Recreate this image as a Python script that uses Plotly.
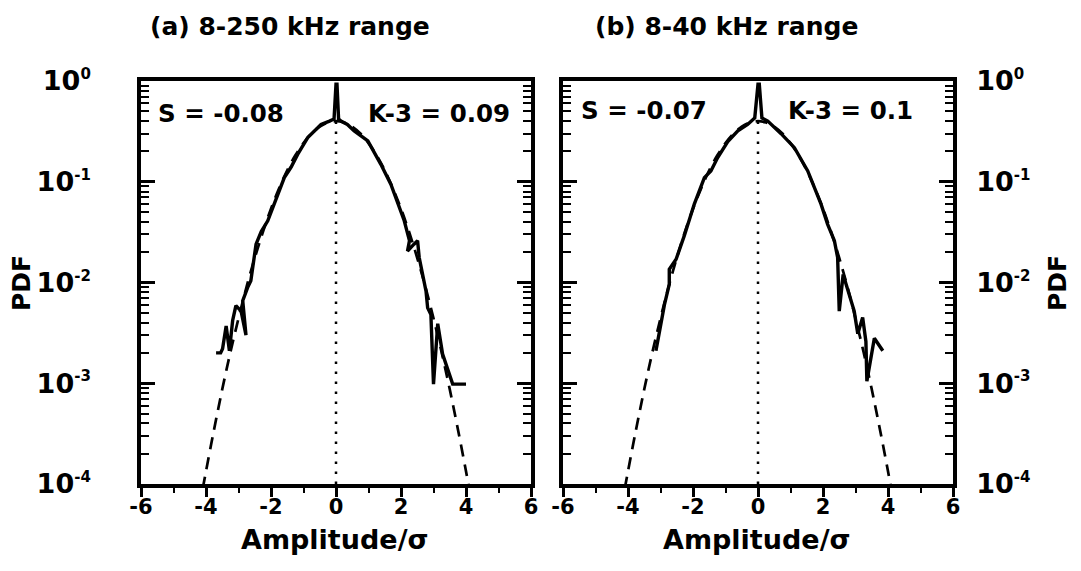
import plotly.graph_objects as go

# ---------------- data ----------------
# Panel (a) 8-250 kHz: measured PDF
a_x = [-3.69, -3.55, -3.49, -3.38, -3.28, -3.18, -3.08, -2.92, -2.77, -2.87, -2.72, -2.62,
       -2.46, -2.30, -2.10, -1.80, -1.59, -1.38, -1.18, -0.87, -0.46, -0.20, -0.06, 0.0,
       0.03, 0.08, 0.15, 0.35, 0.56, 0.98, 1.38, 1.69, 1.90, 2.10, 2.26, 2.20, 2.40, 2.51,
       2.56, 2.67, 2.77, 2.82, 2.92, 3.00, 3.13, 3.28, 3.44, 3.59, 4.00]
a_y = [0.0020, 0.0020, 0.0022, 0.0037, 0.0021, 0.0042, 0.0059, 0.0052, 0.0030, 0.0066, 0.0089, 0.0104,
       0.024, 0.032, 0.041, 0.075, 0.110, 0.140, 0.187, 0.274, 0.370, 0.400, 0.42, 0.93,
       0.93, 0.42, 0.40, 0.37, 0.319, 0.254, 0.149, 0.094, 0.060, 0.041, 0.026, 0.0205, 0.024, 0.026,
       0.0177, 0.012, 0.0082, 0.0056, 0.0048, 0.00098, 0.0039, 0.00195, 0.0014, 0.00098, 0.00098]

# Panel (b) 8-40 kHz: measured PDF
b_x = [-3.14, -2.98, -2.88, -2.73, -2.73, -2.52, -2.27, -1.96, -1.65, -1.45, -1.24, -0.93,
       -0.62, -0.32, -0.10, 0.0, 0.04, 0.12, 0.30, 0.71, 1.12, 1.53, 1.73, 1.94, 2.14,
       2.35, 2.45, 2.50, 2.62, 2.76, 2.86, 2.96, 3.07, 3.22, 3.32, 3.35, 3.58, 3.84]
b_y = [0.0021, 0.0039, 0.0060, 0.0096, 0.0135, 0.017, 0.029, 0.060, 0.110, 0.128, 0.174, 0.250,
       0.320, 0.370, 0.43, 0.93, 0.93, 0.43, 0.400, 0.300, 0.218, 0.128, 0.087, 0.060, 0.038,
       0.026, 0.0177, 0.0052, 0.0120, 0.0083, 0.0066, 0.0052, 0.0031, 0.0045, 0.0026, 0.00105, 0.0028, 0.0021]

# Gaussian reference curve (dashed)
g_x = [-4.1, -4.0, -3.75, -3.5, -3.25, -3.0, -2.75, -2.5, -2.25, -2.0, -1.75, -1.5, -1.25,
       -1.0, -0.75, -0.5, -0.25, 0.0, 0.25, 0.5, 0.75, 1.0, 1.25, 1.5, 1.75, 2.0, 2.25,
       2.5, 2.75, 3.0, 3.25, 3.5, 3.75, 4.0, 4.1]
g_y = [0.000090, 0.000134, 0.00035, 0.00087, 0.00203, 0.0044, 0.0091, 0.0175, 0.0317, 0.054,
       0.086, 0.130, 0.183, 0.242, 0.301, 0.352, 0.387, 0.399, 0.387, 0.352, 0.301, 0.242,
       0.183, 0.130, 0.086, 0.054, 0.0317, 0.0175, 0.0091, 0.0044, 0.00203, 0.00087, 0.00035,
       0.000134, 0.000090]

# zero line
z_x = [0.0, 0.0]
z_y = [0.0001, 0.40]

titles = ["(a) 8-250 kHz range", "(b) 8-40 kHz range"]
skew = ["S = -0.08", "S = -0.07"]
kurt = ["K-3 = 0.09", "K-3 = 0.1"]
ytick_vals = [1e-4, 1e-3, 1e-2, 1e-1, 1]
ytick_exp = ["-4", "-3", "-2", "-1", "0"]
xtick_vals = [-6, -4, -2, 0, 2, 4, 6]
xtick_text = ["-6", "-4", "-2", "0", "2", "4", "6"]

# ---------------- figure ----------------
OFF = 8                      # page body margin
W, H = 1081 - 2 * OFF, 571 - 2 * OFF
FONT = "DejaVu Sans"
fig = go.Figure()

def px_x(p):
    return (p - OFF) / W

def px_y(p):
    return 1 - (p - OFF) / H

dom_a = [px_x(141), px_x(531)]
dom_b = [px_x(563), px_x(953)]
dom_y = [px_y(484), px_y(81)]

solid = dict(color="black", width=3.4)
dashed = dict(color="black", width=2.7, dash="12px,8px")
dotted = dict(color="black", width=2.5, dash="2.5px,7.5px")

for (xx, yy), xa, ya in [((a_x, a_y), "x", "y"), ((b_x, b_y), "x2", "y2")]:
    fig.add_trace(go.Scatter(x=g_x, y=g_y, mode="lines", line=dashed, line_shape="spline",
                             xaxis=xa, yaxis=ya, showlegend=False, hoverinfo="skip"))
    fig.add_trace(go.Scatter(x=z_x, y=z_y, mode="lines", line=dotted,
                             xaxis=xa, yaxis=ya, showlegend=False, hoverinfo="skip"))
    fig.add_trace(go.Scatter(x=xx, y=yy, mode="lines", line=solid,
                             xaxis=xa, yaxis=ya, showlegend=False))

minor_y = [m * 10 ** e for e in range(-4, 0) for m in range(2, 10)]
ytick_text = ["10<sup><span style='font-size:15px'>%s</span></sup>" % e for e in ytick_exp]

def xaxis_main(dom, anchor):
    return dict(domain=dom, anchor=anchor, range=[-6, 6], tickvals=xtick_vals, ticktext=xtick_text,
                ticks="outside", ticklen=9, tickwidth=2.5, tickcolor="black",
                minor=dict(dtick=1, ticks="outside", ticklen=5, tickwidth=2, tickcolor="black"),
                showline=True, linewidth=3.5, linecolor="black", mirror=True,
                showgrid=False, zeroline=False, automargin=False, ticklabelstandoff=-8,
                tickfont=dict(family=FONT, size=21, color="black", weight="bold"))

def xaxis_top(dom, overlay, anchor):
    return dict(domain=dom, anchor=anchor, overlaying=overlay, side="top", range=[-6, 6],
                tickvals=xtick_vals, showticklabels=False,
                ticks="inside", ticklen=12, tickwidth=2.5, tickcolor="black",
                minor=dict(dtick=1, ticks="inside", ticklen=5, tickwidth=2, tickcolor="black"),
                showline=False, showgrid=False, zeroline=False, automargin=False)

def yaxis(anchor, side, standoff):
    return dict(domain=dom_y, anchor=anchor, type="log", range=[-4, 0], side=side,
                tickvals=ytick_vals, ticktext=ytick_text,
                ticks="inside", ticklen=14, tickwidth=2.5, tickcolor="black",
                minor=dict(tickvals=minor_y, ticks="inside", ticklen=8, tickwidth=2, tickcolor="black"),
                showline=True, linewidth=3.5, linecolor="black", mirror="ticks",
                showgrid=False, zeroline=False, automargin=False, ticklabelstandoff=standoff,
                tickfont=dict(family=FONT, size=27, color="black", weight="bold"))

fig.update_layout(
    width=W, height=H,
    margin=dict(l=0, r=0, t=0, b=0),
    paper_bgcolor="white", plot_bgcolor="white",
    xaxis=xaxis_main(dom_a, "y"),
    xaxis2=xaxis_main(dom_b, "y2"),
    xaxis3=xaxis_top(dom_a, "x", "y"),
    xaxis4=xaxis_top(dom_b, "x2", "y2"),
    yaxis=yaxis("x", "left", 41),
    yaxis2=yaxis("x2", "right", 14),
)

def ann(text, x, y, size, xanchor="center", yanchor="middle", angle=0):
    fig.add_annotation(text=text, x=px_x(x), y=px_y(y), xref="paper", yref="paper",
                       showarrow=False, xanchor=xanchor, yanchor=yanchor, textangle=angle,
                       font=dict(family=FONT, size=size, color="black", weight="bold"))

ann(titles[0], 290, 27, 25)
ann(titles[1], 726, 26, 25)
ann(skew[0], 156, 113, 24.5, xanchor="left")
ann(kurt[0], 512, 113, 24.5, xanchor="right")
ann(skew[1], 579, 110, 24.5, xanchor="left")
ann(kurt[1], 915, 110, 24.5, xanchor="right")
ann("Amplitude/σ", 335, 539, 27)
ann("Amplitude/σ", 757, 539, 27)
ann("PDF", 21, 283, 25, angle=-90)
ann("PDF", 1057, 283, 25, angle=-90)

fig.write_html("out.html")
